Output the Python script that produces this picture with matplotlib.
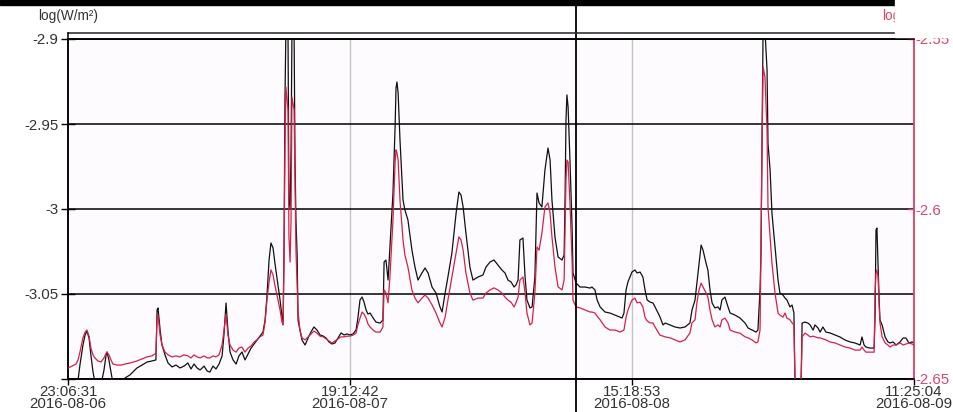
import numpy as np
import pandas as pd
import matplotlib
matplotlib.use("Agg")
import matplotlib.pyplot as plt
import matplotlib.dates as mdates
from matplotlib.lines import Line2D
from matplotlib.patches import Rectangle

plt.rcParams["font.family"] = ["Liberation Sans", "DejaVu Sans"]
plt.rcParams["axes.unicode_minus"] = False

# time axis: start / end of the window and the cursor position
t_start = pd.Timestamp("2016-08-06 23:06:31")
t_end = pd.Timestamp("2016-08-09 11:25:04")
t_cursor = pd.Timestamp("2016-08-08 11:19:31")

# minutes after t_start
minutes = [
    0, 17, 34, 43, 51, 64, 73, 81, 90, 98, 107, 115, 128, 141, 154, 163, 167, 175, 184, 192,
    210, 227, 244, 265, 295, 317, 338, 359, 376, 381, 385, 394, 402, 415, 428, 445, 462, 479, 496, 513,
    526, 539, 552, 565, 582, 595, 607, 620, 633, 646, 659, 667, 676, 684, 693, 706, 719, 731, 744, 757,
    770, 783, 796, 808, 821, 834, 843, 851, 860, 868, 877, 885, 898, 907, 915, 920, 924, 928, 932, 941,
    945, 950, 954, 958, 967, 971, 975, 980, 984, 992, 1001, 1014, 1027, 1039, 1052, 1065, 1078, 1091, 1104, 1116,
    1129, 1142, 1155, 1168, 1181, 1193, 1206, 1219, 1232, 1240, 1249, 1258, 1266, 1275, 1283, 1292, 1305, 1317, 1335, 1347,
    1352, 1360, 1369, 1377, 1390, 1399, 1403, 1407, 1412, 1420, 1433, 1441, 1454, 1471, 1484, 1497, 1514, 1527, 1540, 1557,
    1574, 1591, 1600, 1613, 1625, 1642, 1660, 1672, 1681, 1690, 1702, 1719, 1732, 1754, 1775, 1788, 1805, 1822, 1839, 1856,
    1869, 1882, 1895, 1908, 1916, 1925, 1933, 1946, 1955, 1963, 1976, 1985, 1997, 2006, 2015, 2027, 2040, 2053, 2062, 2070,
    2083, 2096, 2113, 2122, 2126, 2130, 2134, 2139, 2147, 2156, 2160, 2173, 2190, 2211, 2233, 2241, 2254, 2263, 2276, 2297,
    2318, 2340, 2361, 2370, 2378, 2387, 2395, 2412, 2425, 2434, 2447, 2459, 2468, 2477, 2489, 2502, 2511, 2532, 2545, 2554,
    2575, 2596, 2618, 2639, 2660, 2669, 2682, 2690, 2699, 2708, 2716, 2729, 2737, 2746, 2755, 2767, 2780, 2789, 2797, 2810,
    2823, 2832, 2853, 2874, 2896, 2909, 2926, 2943, 2951, 2960, 2964, 2968, 2973, 2981, 2990, 2994, 3003, 3011, 3024, 3037,
    3045, 3058, 3067, 3075, 3088, 3097, 3105, 3110, 3135, 3140, 3152, 3165, 3174, 3187, 3195, 3208, 3217, 3229, 3242, 3259,
    3281, 3302, 3324, 3345, 3366, 3388, 3396, 3405, 3413, 3430, 3448, 3452, 3456, 3460, 3465, 3469, 3473, 3482, 3495, 3507,
    3516, 3529, 3542, 3559, 3572, 3584, 3597, 3610, 3619,
]

# left axis series, log(W/m²)
black_vals = [
    -3.1094, -3.1094, -3.1065, -3.1006, -3.0918, -3.08, -3.0741, -3.0718, -3.0759, -3.0859, -3.0959, -3.1018, -3.1035, -3.1035, -3.0947, -3.0859, -3.0841, -3.0888, -3.0959, -3.1024,
    -3.1041, -3.1029, -3.0994, -3.0976, -3.0935, -3.0918, -3.09, -3.0894, -3.0888, -3.0594, -3.0582, -3.0712, -3.08, -3.0859, -3.0906, -3.0929, -3.0918, -3.0935, -3.0924, -3.0906,
    -3.0941, -3.0912, -3.0935, -3.0947, -3.0924, -3.0953, -3.0959, -3.0924, -3.0941, -3.0912, -3.0865, -3.0741, -3.0553, -3.0712, -3.0841, -3.0888, -3.0912, -3.0865, -3.0841, -3.0888,
    -3.0853, -3.0818, -3.0794, -3.0771, -3.0747, -3.0724, -3.0653, -3.0512, -3.03, -3.02, -3.0229, -3.0318, -3.0447, -3.0535, -3.0629, -3.0665, -3.0241, -2.9359, -2.8947, -2.8959,
    -2.9947, -2.9994, -2.9653, -2.8947, -2.8959, -2.9712, -3.0065, -3.0271, -3.0653, -3.0712, -3.0771, -3.08, -3.0759, -3.0724, -3.0694, -3.0712, -3.0741, -3.0747, -3.0759, -3.0782,
    -3.0794, -3.0788, -3.0759, -3.0729, -3.0741, -3.0735, -3.0741, -3.0735, -3.0712, -3.0641, -3.0535, -3.0518, -3.0547, -3.0594, -3.0618, -3.0612, -3.0641, -3.0665, -3.0671, -3.0653,
    -3.0312, -3.03, -3.0418, -3.0224, -2.9906, -2.9518, -2.9288, -2.9253, -2.9318, -2.9594, -2.9947, -3.0006, -3.0065, -3.0241, -3.0341, -3.0418, -3.0376, -3.0347, -3.0376, -3.0459,
    -3.0494, -3.0576, -3.0606, -3.0494, -3.04, -3.0259, -3.0024, -2.99, -2.9918, -2.9988, -3.0141, -3.0341, -3.0418, -3.04, -3.0388, -3.0341, -3.0312, -3.03, -3.0329, -3.0359,
    -3.0376, -3.0418, -3.0429, -3.0459, -3.0447, -3.0418, -3.0182, -3.0171, -3.04, -3.0535, -3.0582, -3.0576, -3.04, -2.9906, -2.9965, -2.9988, -2.9771, -2.9641, -2.9712, -2.9947,
    -3.0165, -3.0282, -3.03, -3.0271, -2.9947, -2.9476, -2.9329, -2.94, -2.9712, -3.0106, -3.0376, -3.0435, -3.0459, -3.0459, -3.0465, -3.0459, -3.0476, -3.0535, -3.0576, -3.0606,
    -3.0612, -3.0624, -3.0635, -3.0641, -3.0612, -3.0476, -3.0429, -3.0371, -3.0359, -3.0376, -3.0371, -3.04, -3.0476, -3.0535, -3.0547, -3.0553, -3.0576, -3.0635, -3.0682, -3.0671,
    -3.0682, -3.0694, -3.07, -3.0694, -3.0671, -3.0594, -3.0535, -3.0435, -3.0318, -3.0212, -3.0241, -3.0318, -3.0359, -3.0476, -3.0553, -3.0582, -3.0576, -3.0594, -3.0535, -3.0518,
    -3.0576, -3.0612, -3.0624, -3.0641, -3.0671, -3.07, -3.0712, -3.0724, -3.0712, -3.0476, -3.0259, -2.9653, -2.8947, -2.8947, -2.9182, -2.9612, -2.9771, -3.0024, -3.0224, -3.0418,
    -3.0494, -3.0506, -3.0524, -3.0535, -3.0576, -3.0565, -3.0612, -3.1065, -3.1065, -3.0671, -3.0665, -3.0671, -3.0682, -3.0712, -3.0682, -3.07, -3.0724, -3.0694, -3.0724, -3.0729,
    -3.0741, -3.0753, -3.0771, -3.0782, -3.0788, -3.08, -3.0753, -3.08, -3.0812, -3.0818, -3.0818, -3.0635, -3.0124, -3.0112, -3.0341, -3.0518, -3.0653, -3.0682, -3.0753, -3.0782,
    -3.0788, -3.0782, -3.08, -3.0782, -3.0759, -3.0759, -3.0788, -3.0782, -3.0788,
]

# right axis series
red_vals = [
    -2.6468, -2.6462, -2.6456, -2.6444, -2.6421, -2.6379, -2.6362, -2.6356, -2.6374, -2.6409, -2.6429, -2.6438, -2.6447, -2.645, -2.6438, -2.6424, -2.6421, -2.6429, -2.6444, -2.6456,
    -2.6459, -2.6459, -2.6456, -2.6453, -2.6447, -2.6441, -2.6435, -2.6432, -2.6424, -2.6321, -2.6312, -2.6371, -2.64, -2.6421, -2.6429, -2.6435, -2.6432, -2.6435, -2.6429, -2.6432,
    -2.6438, -2.6429, -2.6435, -2.6438, -2.6432, -2.6438, -2.6438, -2.6432, -2.6435, -2.6429, -2.64, -2.6356, -2.6309, -2.6371, -2.64, -2.6415, -2.6421, -2.6409, -2.6406, -2.6421,
    -2.6409, -2.6403, -2.6391, -2.6385, -2.6376, -2.6371, -2.6332, -2.6268, -2.6215, -2.6179, -2.6194, -2.6224, -2.6268, -2.6297, -2.6332, -2.6341, -2.615, -2.5826, -2.5641, -2.5709,
    -2.6082, -2.6156, -2.6032, -2.5671, -2.5709, -2.5915, -2.6121, -2.6224, -2.6303, -2.6356, -2.6379, -2.6385, -2.6376, -2.6368, -2.6359, -2.6365, -2.6374, -2.6376, -2.6382, -2.6388,
    -2.6394, -2.6388, -2.6382, -2.6376, -2.6376, -2.6374, -2.6374, -2.6371, -2.6365, -2.6341, -2.6321, -2.6303, -2.6309, -2.6321, -2.6338, -2.6347, -2.6356, -2.6362, -2.6362, -2.6347,
    -2.6238, -2.6247, -2.6276, -2.62, -2.6032, -2.5865, -2.5826, -2.5835, -2.5856, -2.5974, -2.6091, -2.6135, -2.6171, -2.6238, -2.6262, -2.6276, -2.6262, -2.6253, -2.6262, -2.6282,
    -2.6306, -2.6335, -2.6347, -2.6318, -2.6268, -2.62, -2.6129, -2.6082, -2.6091, -2.6121, -2.6188, -2.6247, -2.6268, -2.6262, -2.6262, -2.6247, -2.6238, -2.6232, -2.6238, -2.6247,
    -2.6259, -2.6268, -2.6274, -2.6288, -2.6276, -2.6259, -2.6209, -2.62, -2.6247, -2.6306, -2.6341, -2.6335, -2.6247, -2.6112, -2.6121, -2.6071, -2.5994, -2.5982, -2.6012, -2.6082,
    -2.6171, -2.6229, -2.6238, -2.6209, -2.6062, -2.5915, -2.5856, -2.5862, -2.5982, -2.615, -2.6268, -2.6288, -2.6291, -2.6297, -2.6303, -2.6303, -2.6306, -2.6315, -2.6326, -2.6347,
    -2.6356, -2.6356, -2.6362, -2.6359, -2.6356, -2.6318, -2.6297, -2.6268, -2.6262, -2.6276, -2.6274, -2.6288, -2.6318, -2.6329, -2.6335, -2.6335, -2.6347, -2.6371, -2.6374, -2.6376,
    -2.6379, -2.6385, -2.6391, -2.6385, -2.6365, -2.6335, -2.6326, -2.6276, -2.6238, -2.6218, -2.6229, -2.6247, -2.6259, -2.6297, -2.6326, -2.6347, -2.6341, -2.6347, -2.6326, -2.6321,
    -2.6335, -2.6356, -2.6362, -2.6365, -2.6376, -2.6379, -2.6385, -2.6394, -2.6391, -2.6356, -2.6121, -2.5835, -2.5582, -2.5612, -2.5768, -2.5994, -2.6082, -2.6159, -2.6247, -2.6306,
    -2.6312, -2.6318, -2.6306, -2.6321, -2.6326, -2.6335, -2.6341, -2.6532, -2.6532, -2.6376, -2.6365, -2.6371, -2.6376, -2.6374, -2.6376, -2.6379, -2.6379, -2.6382, -2.6385, -2.6391,
    -2.6394, -2.64, -2.6406, -2.6409, -2.6415, -2.6415, -2.6406, -2.6415, -2.6421, -2.6421, -2.6421, -2.6247, -2.6188, -2.6179, -2.62, -2.6276, -2.6335, -2.6376, -2.6394, -2.64,
    -2.6406, -2.64, -2.64, -2.6394, -2.64, -2.6397, -2.6394, -2.6397, -2.64,
]

left_ticks = [-3.1, -3.05, -3.0, -2.95, -2.9]
left_labels = ["", "-3.05", "-3", "-2.95", "-2.9"]
right_ticks = [-2.65, -2.6, -2.55]
right_labels = ["-2.65", "-2.6", "-2.55"]
unit_label = "log(W/m²)"

RED = "#d6204a"
RED_AXIS = "#e0456b"
W, H = 954, 412

times = t_start + pd.to_timedelta(minutes, unit="m")

fig = plt.figure(figsize=(W / 100, H / 100), dpi=100)
fig.patch.set_facecolor("white")
ax = fig.add_axes([68 / W, (H - 379) / H, (914 - 68) / W, (379 - 39) / H])
ax.set_facecolor("#fdfbfd")
ax2 = ax.twinx()

ax.plot(times, black_vals, color="#111111", lw=0.9, zorder=3)
ax2.plot(times, red_vals, color=RED, lw=0.9, zorder=3)

ax.set_xlim(t_start, t_end)
ax.set_ylim(-3.1, -2.9)
ax2.set_ylim(-2.65, -2.55)

# x ticks: window split in three equal parts
xt = [t_start + i * (t_end - t_start) / 3 for i in range(4)]
ax.set_xticks(xt)
ax.xaxis.set_major_formatter(mdates.DateFormatter("%H:%M:%S\n%Y-%m-%d"))
ax.tick_params(axis="x", direction="out", length=4, width=1, pad=0,
               labelsize=10.8, labelcolor="#333333")
for lab in ax.get_xticklabels():
    lab.set_linespacing(0.85)
for t in xt[1:3]:
    ax.axvline(t, color="#c4c4c4", lw=1, zorder=1)

ax.set_yticks(left_ticks)
ax.set_yticklabels(left_labels)
ax.tick_params(axis="y", direction="inout", length=10, width=1, pad=2,
               labelsize=10.8, labelcolor="#333333")
ax.grid(axis="y", color="black", lw=1.1, zorder=1)

ax2.set_yticks(right_ticks)
ax2.set_yticklabels(right_labels)
ax2.tick_params(axis="y", direction="in", length=4, width=1, pad=1,
                labelsize=10.8, colors=RED_AXIS)

for a in (ax, ax2):
    a.spines["top"].set_color("black")
    a.spines["left"].set_color("black")
    a.spines["bottom"].set_color("black")
    a.spines["right"].set_color(RED_AXIS)
    for s in a.spines.values():
        s.set_linewidth(1.1)

# cursor line across the whole picture
ax2.axvline(t_cursor, ymin=-0.12, ymax=1.13, color="black", lw=1.3, clip_on=False, zorder=6)

# frame bits at the top of the screenshot
fig.patches.append(Rectangle((0, 1 - 5 / H), 895 / W, 5 / H, transform=fig.transFigure,
                             color="black", zorder=8))
fig.add_artist(Line2D([68 / W, 895 / W], [1 - 33 / H, 1 - 33 / H], transform=fig.transFigure,
                      color="#222222", lw=1.1, zorder=8))
fig.add_artist(Line2D([68 / W, 68 / W], [1 - 33 / H, 1 - 39 / H], transform=fig.transFigure,
                      color="black", lw=1.1, zorder=8))

fig.text(38 / W, 1 - 16 / H, unit_label, fontsize=9.8, color="#333333", va="center", ha="left")
fig.text(882 / W, 1 - 16 / H, unit_label, fontsize=9.8, color=RED_AXIS, va="center", ha="left", zorder=5)
fig.patches.append(Rectangle((895 / W, 1 - 37 / H), 59 / W, 37 / H, transform=fig.transFigure,
                             color="white", zorder=9))

fig.savefig("out.png", dpi=100)
